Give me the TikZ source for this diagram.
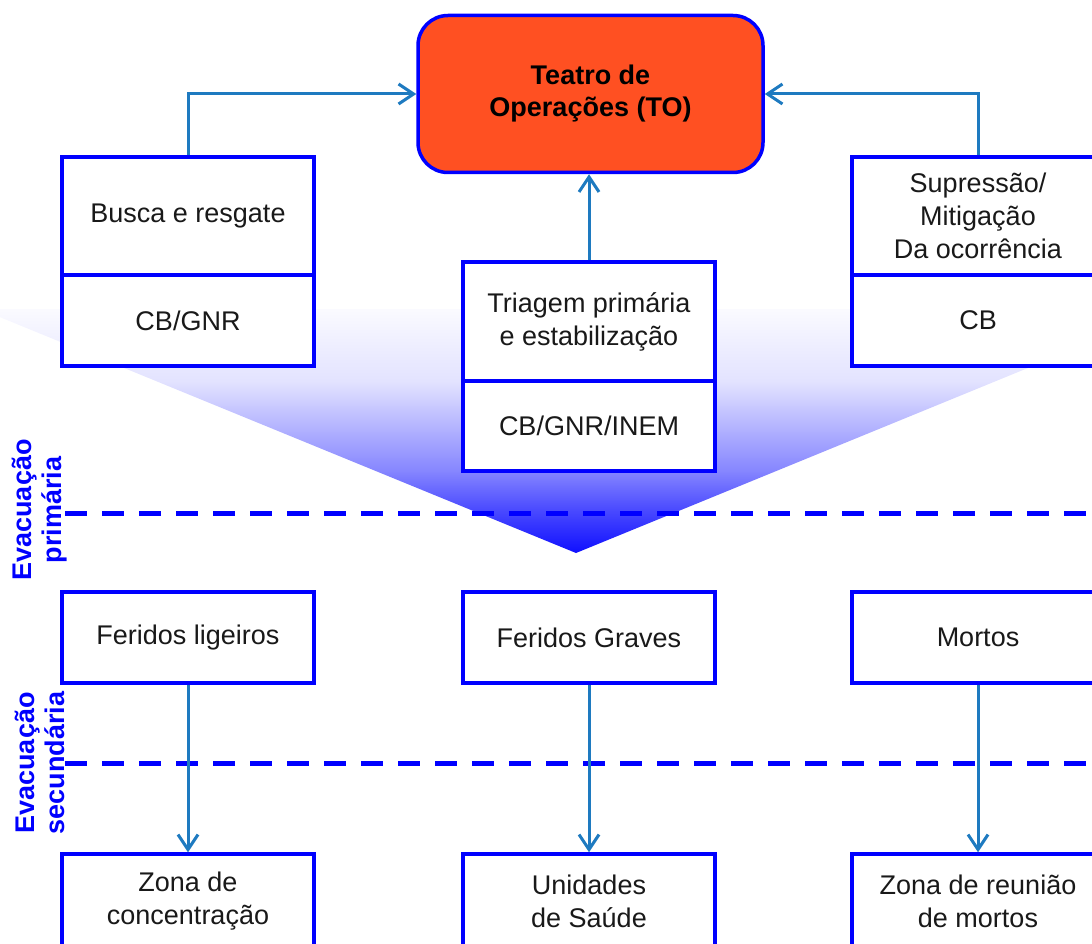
\documentclass[tikz,border=0pt]{standalone}
\usepackage{fontspec}
\setmainfont{Liberation Sans}
\usetikzlibrary{arrows.meta}

\definecolor{boxblue}{RGB}{0,0,255}
\definecolor{linkblue}{RGB}{30,122,192}
\definecolor{toorange}{RGB}{255,80,34}
\definecolor{tipblue}{RGB}{15,15,255}
\definecolor{bodytext}{RGB}{25,25,25}

% funnel shading: deep blue at the tip, fading to white towards the top
\pgfdeclareverticalshading{funnel}{100bp}{%
  color(0bp)=(tipblue); color(25bp)=(tipblue);
  color(34bp)=(tipblue!75!white); color(42bp)=(tipblue!50!white);
  color(60bp)=(tipblue!12!white); color(75bp)=(tipblue!2!white);
  color(100bp)=(white)}

\begin{document}
\begin{tikzpicture}[x=1pt,y=-1pt,
  every node/.style={inner sep=0pt, align=center, text=bodytext,
    font=\fontsize{27}{33}\selectfont},
  cell/.style={draw=boxblue, line width=3.5pt, fill=white, minimum width=252pt},
  theatre/.style={draw=boxblue, line width=3.5pt, fill=toorange, rounded corners=30pt,
    minimum width=345pt, minimum height=157pt, text=black,
    font=\bfseries\fontsize{27}{32}\selectfont},
  conn/.style={draw=linkblue, line width=3pt, -{Straight Barb[length=15pt,width=20pt]}},
  zoneline/.style={draw=boxblue, line width=5pt, dash pattern=on 22pt off 15pt},
  zonelabel/.style={rotate=90, text=boxblue, font=\bfseries\fontsize{27}{30}\selectfont}
]
\useasboundingbox (0,0) rectangle (1092,944);
\clip (0,0) rectangle (1092,944);

% funnel behind everything
\shade[shading=funnel] (-20,309) -- (1172,309) -- (576,553) -- cycle;

% evacuation boundaries
\coordinate (p1a) at (65,513);  \coordinate (p1b) at (1100,513);
\coordinate (p2a) at (65,763);  \coordinate (p2b) at (1100,763);
\draw[zoneline] (p1a) -- (p1b);
\draw[zoneline] (p2a) -- (p2b);

% theatre of operations
\node[theatre] (to) at (590.5,94) {Teatro de\\Operações (TO)};

% first tier
\node[cell, minimum height=118pt] (busca) at (188,216) {Busca e resgate};
\node[cell, minimum height=91pt] (buscacb) at (188,320.5) {CB/GNR};

\node[cell, minimum height=119pt] (triagem) at (589,321.5) {Triagem primária\\e estabilização};
\node[cell, minimum height=90pt] (triagemcb) at (589,426) {CB/GNR/INEM};

\node[cell, minimum height=118pt] (supr) at (978,216) {Supressão/\\Mitigação\\Da ocorrência};
\node[cell, minimum height=91pt] (suprcb) at (978,320.5) {CB};

% casualty classes
\node[cell, minimum height=91pt] (ligeiros) at (188,637.5) {Feridos ligeiros};
\node[cell, minimum height=91pt] (graves) at (589,637.5) {Feridos Graves};
\node[cell, minimum height=91pt] (mortos) at (978,637.5) {Mortos};

% destinations
\node[cell, minimum height=94pt] (zona) at (188,901) {Zona de\\concentração};
\node[cell, minimum height=94pt] (saude) at (589,901) {Unidades\\de Saúde};
\node[cell, minimum height=94pt] (reuniao) at (978,901) {Zona de reunião\\de mortos};

% evacuation labels
\node[zonelabel] (evac1) at (40,510) {Evacuação\\primária};
\node[zonelabel] (evac2) at (40,763) {Evacuação\\secundária};

% connectors
\draw[conn] (busca.north) |- (to.west);
\draw[conn] (supr.north) |- (to.east);
\draw[conn] (triagem.north) -- (triagem.north |- to.south);
\draw[conn] (ligeiros.south) -- (zona.north);
\draw[conn] (graves.south) -- (saude.north);
\draw[conn] (mortos.south) -- (reuniao.north);
\end{tikzpicture}
\end{document}
